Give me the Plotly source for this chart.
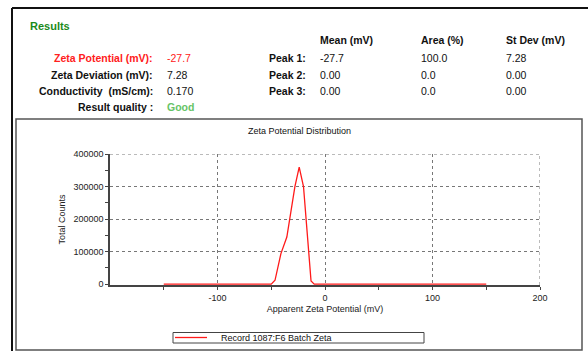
import plotly.graph_objects as go

# ---- data ----
zeta_mv = [-150, -50, -46.5, -41, -35.5, -28, -24, -20, -13, -10, 150]
total_counts = [0, 0, 12000, 94000, 145000, 300000, 360000, 300000, 10000, 0, 0]
series_name = "Record 1087:F6 Batch Zeta"

x_tickvals = [-100, 0, 100, 200]
x_ticktext = ["-100", "0", "100", "200"]
y_tickvals = [0, 100000, 200000, 300000, 400000]

header_labels = ["Mean (mV)", "Area (%)", "St Dev (mV)"]
peak_labels = ["Peak 1:", "Peak 2:", "Peak 3:"]
peak_mean = ["-27.7", "0.00", "0.00"]
peak_area = ["100.0", "0.0", "0.0"]
peak_std = ["7.28", "0.00", "0.00"]
summary_labels = ["Zeta Potential (mV):", "Zeta Deviation (mV):", "Conductivity  (mS/cm):", "Result quality :"]
summary_values = ["-27.7", "7.28", "0.170", "Good"]

FONT = "Arial, 'Liberation Sans', sans-serif"
W, H = 588, 351
ML, MR, MT, MB = 110, 48, 154, 66
PW, PH = W - ML - MR, H - MT - MB
Y_LO, Y_HI = -2500, 400000


def px(x):
    return (x - ML) / PW


def py(y):
    return (MT + PH - y) / PH


fig = go.Figure()
fig.add_trace(go.Scatter(
    x=zeta_mv, y=total_counts, mode="lines", name=series_name,
    line=dict(color="#ff1a1a", width=1.3), showlegend=False,
))

ann = []


def text(x, y, s, anchor="left", color="#111", bold=False, size=10.5):
    ann.append(dict(
        xref="paper", yref="paper", x=px(x), y=py(y), text=f"<b>{s}</b>" if bold else s,
        showarrow=False, xanchor=anchor, yanchor="middle",
        font=dict(family=FONT, size=size, color=color),
    ))


# Results panel
text(28, 26, "Results", color="#1a8a1a", bold=True, size=11)
hx = [318, 419, 504]
for h, x in zip(header_labels, hx):
    text(x, 40, h, bold=True)
rows_y = [58, 75, 91, 107]
for i, (lab, val) in enumerate(zip(summary_labels, summary_values)):
    col = "#ff2020" if i == 0 else "#111"
    vcol = "#ff2020" if i == 0 else ("#66c466" if i == 3 else "#111")
    text(155, rows_y[i], lab, anchor="right", color=col, bold=True)
    text(165, rows_y[i], val, color=vcol, bold=(i == 3))
for i in range(3):
    text(307.5, rows_y[i], peak_labels[i], anchor="right", bold=True)
    text(hx[0], rows_y[i], peak_mean[i])
    text(hx[1], rows_y[i], peak_area[i])
    text(hx[2], rows_y[i], peak_std[i])

# Chart title
text(299, 131, "Zeta Potential Distribution", anchor="center", size=9)
# Legend text
text(219, 337.5, series_name, size=9)

GRID = "#777"
shapes = [
    # outer frame
    dict(type="line", xref="paper", yref="paper", x0=px(12), x1=px(588), y0=py(8), y1=py(8),
         line=dict(color="#111", width=2)),
    dict(type="line", xref="paper", yref="paper", x0=px(12), x1=px(12), y0=py(8), y1=py(351),
         line=dict(color="#111", width=2)),
    # chart box
    dict(type="rect", xref="paper", yref="paper", x0=px(16), x1=px(582), y0=py(119), y1=py(350),
         line=dict(color="#555", width=1.5)),
    # dotted top/right plot edges (grid at range limits)
    dict(type="line", xref="paper", yref="y", x0=0, x1=1, y0=Y_HI, y1=Y_HI,
         line=dict(color=GRID, width=1, dash="dot")),
    dict(type="line", xref="x", yref="paper", x0=200, x1=200, y0=0, y1=1,
         line=dict(color=GRID, width=1, dash="dot")),
    # legend box
    dict(type="rect", xref="paper", yref="paper", x0=px(173), x1=px(424), y0=py(332.5), y1=py(343),
         line=dict(color="#444", width=1)),
    dict(type="line", xref="paper", yref="paper", x0=px(175), x1=px(207), y0=py(337.5), y1=py(337.5),
         line=dict(color="#ff1a1a", width=1.3)),
]

fig.update_layout(
    width=W, height=H, margin=dict(l=ML, r=MR, t=MT, b=MB),
    paper_bgcolor="white", plot_bgcolor="white",
    font=dict(family=FONT, size=9, color="#222"),
    annotations=ann, shapes=shapes,
    xaxis=dict(
        range=[-200, 200], tickvals=x_tickvals, ticktext=x_ticktext, ticks="outside", ticklen=3,
        tickcolor="#444",
        showline=True, linecolor="#444", linewidth=1.5, layer="below traces",
        showgrid=True, gridcolor=GRID, griddash="dot", gridwidth=1, zeroline=False,
        minor=dict(tickmode="linear", tick0=-150, dtick=100, ticks="outside", ticklen=3,
                   tickcolor="#444", showgrid=False),
        title=dict(text="Apparent Zeta Potential (mV)", font=dict(size=9), standoff=4),
        tickfont=dict(size=9),
    ),
    yaxis=dict(
        range=[Y_LO, Y_HI], tickvals=y_tickvals, tickformat="d", ticks="outside", ticklen=3,
        tickcolor="#444", showline=True, linecolor="#444", linewidth=1.5,
        showgrid=True, gridcolor=GRID, griddash="dot", gridwidth=1, zeroline=False,
        minor=dict(tickmode="linear", tick0=0, dtick=50000, ticks="outside", ticklen=3,
                   tickcolor="#444", showgrid=False),
        title=dict(text="Total Counts", font=dict(size=9), standoff=6),
        tickfont=dict(size=9),
    ),
)

fig.write_html("out.html")
